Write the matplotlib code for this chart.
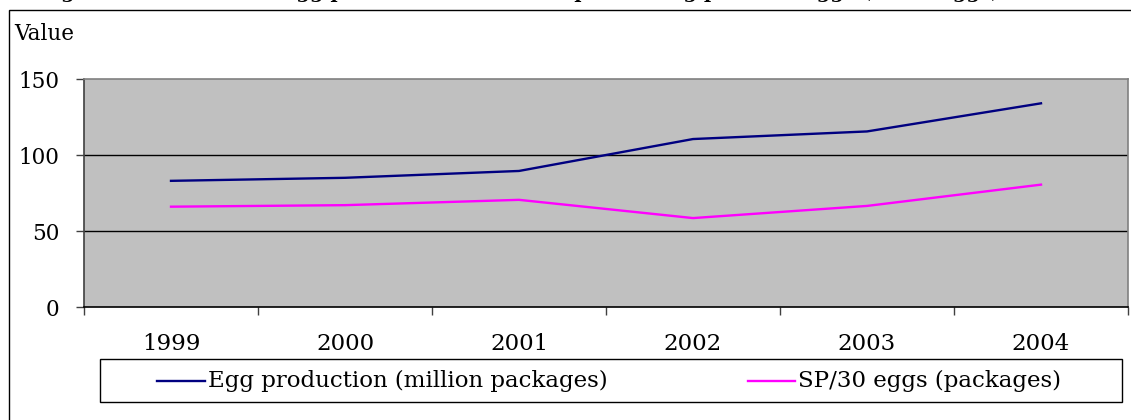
import matplotlib
matplotlib.use("Agg")
import matplotlib.pyplot as plt
from matplotlib.patches import Rectangle
from matplotlib.lines import Line2D

years = ["1999", "2000", "2001", "2002", "2003", "2004"]
egg_production = [83, 85, 89.5, 110.5, 115.5, 134]
sp_per_30_eggs = [66, 67, 70.5, 58.5, 66.5, 80.5]
y_ticks = [0, 50, 100, 150]
series_labels = ["Egg production (million packages)", "SP/30 eggs (packages)"]
series_colors = ["#000080", "#FF00FF"]

SERIF = "DejaVu Serif"
W, H = 1131, 420
fig = plt.figure(figsize=(W / 100, H / 100), dpi=100)
fig.patch.set_facecolor("white")


def fx(px):
    return px / W


def fy(py):
    return 1 - py / H


# outer chart frame
fig.patches.append(Rectangle((fx(9), fy(H + 5)), fx(W + 5) - fx(9), fy(10) - fy(H + 5),
                             transform=fig.transFigure, fill=False,
                             edgecolor="black", linewidth=1.0))

# caption (runs above the top edge)
fig.text(fx(40), 1 + 1.5 / H,
         "Figure 2: Evolution of egg production and of the purchasing power of eggs (SP/30 eggs)",
         family=SERIF, fontweight="bold", fontsize=14, va="baseline", ha="left")

left, right, top, bottom = 84, 1128, 79, 307
ax = fig.add_axes([fx(left), fy(bottom), fx(right) - fx(left), fy(top) - fy(bottom)])
ax.set_facecolor("#C0C0C0")

x = list(range(len(years)))
l1, = ax.plot(x, egg_production, color=series_colors[0], linewidth=1.7, zorder=3)
l2, = ax.plot(x, sp_per_30_eggs, color=series_colors[1], linewidth=1.7, zorder=3)

ax.set_xlim(-0.5, len(years) - 0.5)
ax.set_ylim(0, 150)
ax.set_yticks(y_ticks)
ax.set_yticklabels([str(v) for v in y_ticks], family=SERIF, fontsize=15.5)
ax.set_xticks(x)
ax.set_xticklabels(years, family=SERIF, fontsize=16.5)
ax.set_xticks([i - 0.5 for i in range(len(years) + 1)], minor=True)
ax.tick_params(axis="x", which="major", length=0, pad=19)
ax.tick_params(axis="x", which="minor", length=5.5, width=1, color="#404040", direction="out")
ax.tick_params(axis="y", length=5.5, width=1, color="#404040", direction="out", pad=12)

for v in [50, 100]:
    ax.axhline(v, color="black", linewidth=1.0, zorder=1)

ax.spines["left"].set_color("#404040")
ax.spines["bottom"].set_color("black")
ax.spines["top"].set_color("#808080")
ax.spines["right"].set_color("#808080")
for s in ax.spines.values():
    s.set_linewidth(1.2)

fig.text(fx(14), fy(34), "Value", family=SERIF, fontsize=15.5, va="center", ha="left")

# legend box with two keys
lx0, lx1, ly0, ly1 = 100, 1122, 359, 402
fig.patches.append(Rectangle((fx(lx0), fy(ly1)), fx(lx1) - fx(lx0), fy(ly0) - fy(ly1),
                             transform=fig.transFigure, fill=True, facecolor="white",
                             edgecolor="black", linewidth=1.0))
key_y = fy(381)
for (k0, k1, tx), lab, col in zip([(157, 205, 208), (748, 795, 798)], series_labels, series_colors):
    fig.add_artist(Line2D([fx(k0), fx(k1)], [key_y, key_y], transform=fig.transFigure,
                          color=col, linewidth=1.7))
    fig.text(fx(tx), key_y, lab, family=SERIF, fontsize=16.5, va="center", ha="left")

fig.savefig("out.png", dpi=100)
